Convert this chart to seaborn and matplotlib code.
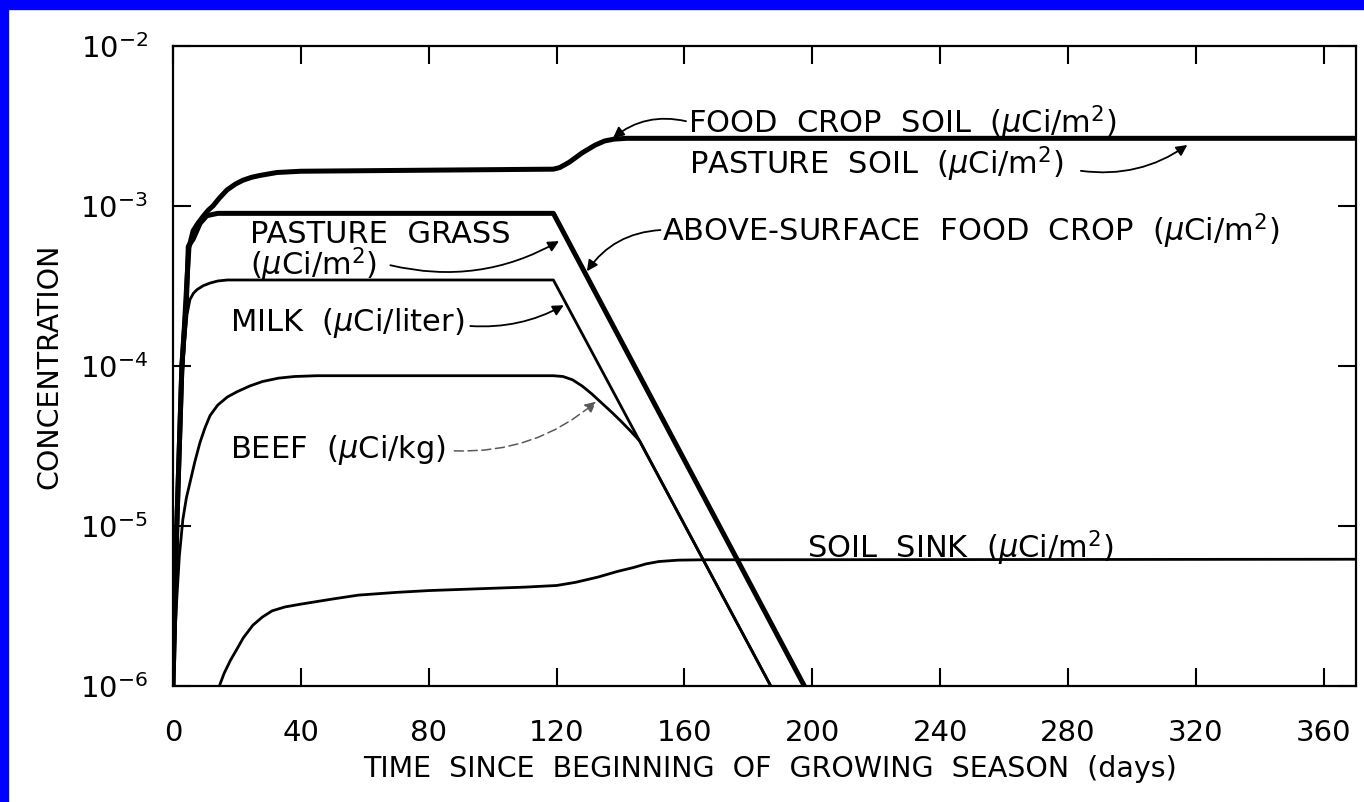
import numpy as np
import pandas as pd
import matplotlib
matplotlib.use("Agg")
import matplotlib.pyplot as plt
import seaborn as sns
from matplotlib.patches import Rectangle
from matplotlib.ticker import FixedLocator, NullLocator, LogFormatterSciNotation

# values (days, concentration)
soil_days = [0, 1.2, 2.8, 3.6, 4.4, 5.0, 6.3, 7.8, 9.4, 11, 12.5, 14.5, 16.9, 19.5, 21.9, 24.5, 27,
             32.5, 40, 119, 121, 124, 128, 132, 135, 138, 142, 370]
soil_conc = [1e-6, 1e-5, 1e-4, 1.8e-4, 3.5e-4, 5.5e-4, 7.0e-4, 7.8e-4, 8.6e-4, 9.4e-4, 1.0e-3, 1.12e-3,
             1.26e-3, 1.37e-3, 1.45e-3, 1.51e-3, 1.55e-3, 1.62e-3, 1.65e-3, 1.7e-3, 1.74e-3, 1.88e-3,
             2.15e-3, 2.4e-3, 2.55e-3, 2.62e-3, 2.65e-3, 2.65e-3]

grass_days = [0, 1.2, 2.8, 4.2, 4.8, 6.3, 8.5, 10.6, 14, 119, 197.5]
grass_conc = [1e-6, 1e-5, 1e-4, 2.5e-4, 5.6e-4, 6.2e-4, 7.8e-4, 8.7e-4, 9.0e-4, 9.0e-4, 1e-6]

milk_days = [0, 1.2, 2.8, 3.6, 4.4, 5.3, 6.4, 7.5, 9.5, 11.6, 14, 17, 119, 187]
milk_conc = [1e-6, 1e-5, 8e-5, 1.4e-4, 2.1e-4, 2.6e-4, 2.85e-4, 3.0e-4, 3.18e-4, 3.3e-4, 3.4e-4,
             3.45e-4, 3.45e-4, 1e-6]

beef_days = [0, 1, 2, 3.1, 4.2, 5.3, 6.8, 8.4, 10, 11.6, 14, 17, 20, 24, 28, 33, 38, 45, 119, 122,
             125, 128, 131, 134, 137, 140, 143, 146, 187]
beef_conc = [1e-6, 3e-6, 6.5e-6, 1.1e-5, 1.5e-5, 1.86e-5, 2.5e-5, 3.3e-5, 4.1e-5, 4.9e-5, 5.7e-5,
             6.4e-5, 6.9e-5, 7.5e-5, 8.0e-5, 8.4e-5, 8.6e-5, 8.7e-5, 8.7e-5, 8.6e-5, 8.2e-5, 7.5e-5,
             6.7e-5, 5.9e-5, 5.2e-5, 4.55e-5, 3.95e-5, 3.4e-5, 1e-6]

sink_days = [14.5, 16, 18, 20, 22, 25, 28, 31, 35, 40, 50, 58, 70, 80, 95, 110, 120, 126, 133, 139,
             144, 148, 152, 158, 165, 370]
sink_conc = [1e-6, 1.2e-6, 1.45e-6, 1.7e-6, 2.0e-6, 2.4e-6, 2.7e-6, 2.95e-6, 3.12e-6, 3.25e-6,
             3.5e-6, 3.7e-6, 3.85e-6, 3.95e-6, 4.05e-6, 4.15e-6, 4.25e-6, 4.45e-6, 4.8e-6, 5.2e-6,
             5.5e-6, 5.8e-6, 6.0e-6, 6.12e-6, 6.15e-6, 6.2e-6]

x_ticks = [0, 40, 80, 120, 160, 200, 240, 280, 320, 360]
y_ticks = [1e-6, 1e-5, 1e-4, 1e-3, 1e-2]

sns.set_style("ticks")
plt.rcParams['font.family'] = ['DejaVu Sans']
plt.rcParams['mathtext.fontset'] = 'dejavusans'
plt.rcParams['text.color'] = 'black'
plt.rcParams['axes.labelcolor'] = 'black'

fig = plt.figure(figsize=(13.64, 8.02), dpi=100)
ax = fig.add_axes([0.1268, 0.1446, 0.8672, 0.798])

thick = 3.6
thin = 2.0
sns.lineplot(x=soil_days, y=soil_conc, ax=ax, color='black', lw=thick, sort=False, estimator=None)
sns.lineplot(x=grass_days, y=grass_conc, ax=ax, color='black', lw=thick, sort=False, estimator=None)
sns.lineplot(x=milk_days, y=milk_conc, ax=ax, color='black', lw=thin, sort=False, estimator=None)
sns.lineplot(x=beef_days, y=beef_conc, ax=ax, color='black', lw=thin, sort=False, estimator=None)
sns.lineplot(x=sink_days, y=sink_conc, ax=ax, color='black', lw=thin, sort=False, estimator=None)

ax.set_yscale('log')
ax.set_xlim(0, 370)
ax.set_ylim(1e-6, 1e-2)
ax.xaxis.set_major_locator(FixedLocator(x_ticks))
ax.yaxis.set_major_locator(FixedLocator(y_ticks))
ax.yaxis.set_major_formatter(LogFormatterSciNotation())
ax.yaxis.set_minor_locator(NullLocator())
ax.xaxis.set_minor_locator(NullLocator())
ax.tick_params(which='major', direction='in', length=13, width=1.5, top=True, right=True,
               labelsize=21, colors='black')
ax.tick_params(axis='x', pad=24)
ax.tick_params(axis='y', pad=18)
for s in ax.spines.values():
    s.set_linewidth(1.6)
    s.set_color('black')

ax.set_xlabel('TIME  SINCE  BEGINNING  OF  GROWING  SEASON  (days)', fontsize=20.5)
ax.set_ylabel('CONCENTRATION', fontsize=20.5)
ax.xaxis.set_label_coords(0.505, -0.107)
ax.yaxis.set_label_coords(-0.093, 0.5)


def on_curve(days, conc, d):
    return 10 ** np.interp(d, days, np.log10(conc))


mu = r'($\mu$Ci/m$^2$)'
fs = 22
ax.text(161, 10 ** -2.48, 'FOOD  CROP  SOIL  ' + mu, fontsize=fs, va='center', ha='left')
ax.text(161.5, 10 ** -2.74, 'PASTURE  SOIL  ' + mu, fontsize=fs, va='center', ha='left')
ax.text(153, 10 ** -3.16, 'ABOVE-SURFACE  FOOD  CROP  ' + mu, fontsize=fs, va='center', ha='left')
ax.text(24, 10 ** -3.18, 'PASTURE  GRASS', fontsize=fs, va='center', ha='left')
ax.text(24, 10 ** -3.37, mu, fontsize=fs, va='center', ha='left')
ax.text(17.8, 10 ** -3.73, r'MILK  ($\mu$Ci/liter)', fontsize=fs, va='center', ha='left')
ax.text(17.8, 10 ** -4.525, r'BEEF  ($\mu$Ci/kg)', fontsize=fs, va='center', ha='left')
ax.text(198.4, 10 ** -5.14, 'SOIL  SINK  ' + mu, fontsize=fs, va='center', ha='left')

arrow = dict(arrowstyle='-|>', color='black', lw=1.3, mutation_scale=16, shrinkA=0, shrinkB=2)
ax.annotate('', xy=(137, on_curve(soil_days, soil_conc, 137)), xytext=(160.5, 10 ** -2.47),
            arrowprops=dict(arrow, connectionstyle='arc3,rad=0.25'))
ax.annotate('', xy=(318, on_curve(soil_days, soil_conc, 318) * 0.93), xytext=(284, 10 ** -2.78),
            arrowprops=dict(arrow, connectionstyle='arc3,rad=0.2'))
ax.annotate('', xy=(129, on_curve(grass_days, grass_conc, 129)), xytext=(152.5, 10 ** -3.15),
            arrowprops=dict(arrow, connectionstyle='arc3,rad=0.25'))
ax.annotate('', xy=(121.5, on_curve(grass_days, grass_conc, 121.5) * 0.85), xytext=(68, 10 ** -3.37),
            arrowprops=dict(arrow, connectionstyle='arc3,rad=0.2'))
ax.annotate('', xy=(123, on_curve(milk_days, milk_conc, 123)), xytext=(93, 10 ** -3.75),
            arrowprops=dict(arrow, connectionstyle='arc3,rad=0.15'))
ax.annotate('', xy=(133, on_curve(beef_days, beef_conc, 133)), xytext=(88, 10 ** -4.53),
            arrowprops=dict(arrow, color='0.35', lw=1.1, linestyle=(0, (6, 3)),
                            connectionstyle='arc3,rad=0.2'))

# blue frame strips on top and left of the scan
fig.patches.append(Rectangle((0, 1 - 9 / 802), 1, 9 / 802, transform=fig.transFigure,
                             color='#0000FF', zorder=10))
fig.patches.append(Rectangle((0, 0), 8 / 1364, 1, transform=fig.transFigure,
                             color='#0000FF', zorder=10))

fig.savefig('out.png', dpi=100)
